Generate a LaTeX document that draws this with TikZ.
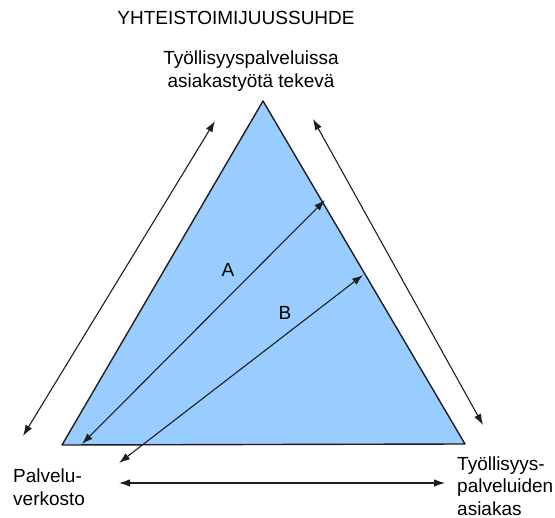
\documentclass[tikz,border=0pt]{standalone}
\usepackage{fontspec}
\setmainfont{Liberation Sans}
\usetikzlibrary{arrows.meta}
\definecolor{triblue}{RGB}{153,204,255}
\definecolor{edgegray}{RGB}{30,30,30}

\begin{document}
\begin{tikzpicture}[x=1pt,y=-1pt,
    lbl/.style={font=\fontsize{19}{22.5}\selectfont,inner sep=0pt},
    rel/.style={{Latex[length=11pt,width=7.5pt]}-{Latex[length=11pt,width=7.5pt]},line width=1.1pt,edgegray}]
  \useasboundingbox (0,0) rectangle (555,518);
  % corners of the triangle
  \coordinate (top) at (263,101);
  \coordinate (bl) at (62,445);
  \coordinate (br) at (465,444);
  \filldraw[fill=triblue,draw=edgegray,line width=1.4pt,line join=round] (top)--(bl)--(br)--cycle;
  % texts
  \node[lbl] (title) at (236,18) {YHTEISTOIMIJUUSSUHDE};
  \node[lbl,align=center] (worker) at (251,71) {Työllisyyspalveluissa\\asiakastyötä tekevä};
  \node[lbl,align=left,anchor=west] (network) at (13,487) {Palvelu-\\verkosto};
  \node[lbl,align=left,anchor=west] (client) at (457,486) {Työllisyys-\\palveluiden\\asiakas};
  \node[lbl] (a) at (228,270) {A};
  \node[lbl] (b) at (285,313) {B};
  % arrow ends
  \coordinate (l1) at (215,121);
  \coordinate (l2) at (23,436);
  \coordinate (r1) at (313,119);
  \coordinate (r2) at (483,425);
  \coordinate (h1) at (119,483);
  \coordinate (h2) at (445,483);
  \coordinate (a1) at (82,444);
  \coordinate (a2) at (325,200);
  \coordinate (b1) at (119,463);
  \coordinate (b2) at (363,275);
  \draw[rel] (l1)--(l2);
  \draw[rel] (r1)--(r2);
  \draw[rel] (h1)--(h2);
  \draw[rel] (a1)--(a2);
  \draw[rel] (b1)--(b2);
\end{tikzpicture}
\end{document}
